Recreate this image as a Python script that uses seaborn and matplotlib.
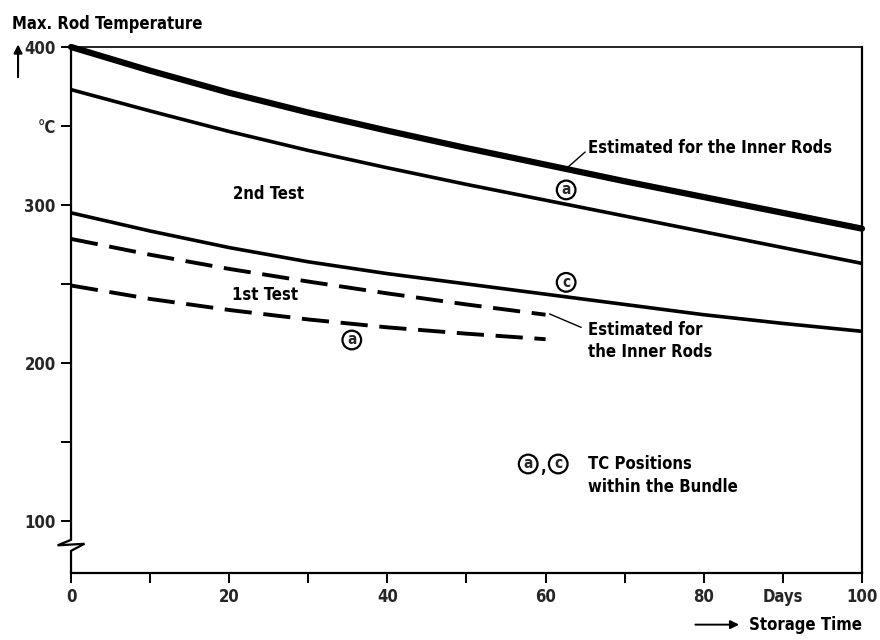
import matplotlib
matplotlib.use("Agg")
import matplotlib.pyplot as plt
import seaborn as sns
import pandas as pd

# ---- data ----
days_2nd = [0, 10, 20, 30, 40, 50, 60, 70, 80, 90, 100]
inner_2nd = [400, 385, 371, 358.5, 347, 336, 325.5, 315, 305, 295, 285]
pos_a_2nd = [373, 359.5, 346.5, 334.5, 323.5, 313, 303, 293, 283, 273, 263]
pos_c_2nd = [295, 283.5, 273, 264, 256.5, 250, 243.5, 237, 230.5, 225, 220]

days_1st = [0, 10, 20, 30, 40, 50, 60]
inner_1st = [278.5, 268.5, 259.5, 251.5, 244, 237, 230.5]
pos_a_1st = [249, 240.5, 233.5, 227.5, 222.5, 218.5, 215]

x_major = [0, 20, 40, 60, 80, 100]
x_minor = [10, 30, 50, 70, 90]
y_major = [100, 200, 300, 400]
y_minor = [150, 250, 350]

sns.set_style("white")
plt.rcParams["font.family"] = ["DejaVu Sans"]
plt.rcParams["font.weight"] = "bold"
plt.rcParams["font.stretch"] = "condensed"

fig = plt.figure(figsize=(8.8, 6.4), dpi=100)
ax = fig.add_axes([0.0807, 0.1047, 0.8988, 0.8219])

df2 = pd.DataFrame({"day": days_2nd, "inner": inner_2nd, "a": pos_a_2nd, "c": pos_c_2nd})
df1 = pd.DataFrame({"day": days_1st, "inner": inner_1st, "a": pos_a_1st})

sns.lineplot(data=df2, x="day", y="inner", ax=ax, color="black", lw=4.5, clip_on=False)
sns.lineplot(data=df2, x="day", y="a", ax=ax, color="black", lw=2.6)
sns.lineplot(data=df2, x="day", y="c", ax=ax, color="black", lw=2.6)
sns.lineplot(data=df1, x="day", y="inner", ax=ax, color="black", lw=2.8)
ax.lines[-1].set_dashes((7, 3))
sns.lineplot(data=df1, x="day", y="a", ax=ax, color="black", lw=2.8)
ax.lines[-1].set_dashes((7, 3))

ax.set_xlim(0, 100)
ax.set_ylim(67, 400)
ax.set_xlabel("")
ax.set_ylabel("")

for s in ["top", "right", "bottom"]:
    ax.spines[s].set_visible(True)
    ax.spines[s].set_color("black")
    ax.spines[s].set_linewidth(1.6)
ax.spines["top"].set_linewidth(1.2)
ax.spines["left"].set_visible(False)
ax.plot([0, 0, -1.7, 1.7, 0, 0], [400, 88, 84.5, 85.5, 81, 67],
        color="black", lw=1.6, clip_on=False, solid_joinstyle="miter")

x_ticks = sorted(x_major + x_minor)
ax.set_xticks(x_ticks)
ax.set_xticklabels([str(v) if v in x_major else ("Days" if v == 90 else "") for v in x_ticks])
y_ticks = sorted(y_major + y_minor)
ax.set_yticks(y_ticks)
ax.set_yticklabels([str(v) if v in y_major else ("°C" if v == 350 else "") for v in y_ticks])
ax.tick_params(axis="both", direction="out", length=7, width=1.4, color="black",
               labelsize=12, pad=4, bottom=True, left=True)
for lab in ax.get_xticklabels() + ax.get_yticklabels():
    lab.set_fontweight("bold")
    lab.set_fontstretch("condensed")

kw = dict(fontsize=12, fontweight="bold", color="black", fontstretch="condensed")
fig.text(0.014, 0.962, "Max. Rod Temperature", ha="left", va="center", **kw)
fig.add_artist(matplotlib.patches.FancyArrowPatch((0.0205, 0.875), (0.0205, 0.935),
               transform=fig.transFigure, arrowstyle="-|>,head_length=5,head_width=2.5",
               color="black", lw=1.5))

ax.text(25, 307, "2nd Test", ha="center", va="center", **kw)
ax.text(24.5, 243, "1st Test", ha="center", va="center", **kw)
ax.text(65.3, 336, "Estimated for the Inner Rods", ha="left", va="center", **kw)
ax.plot([62.5, 65.0], [322.5, 333.5], color="black", lw=1.0)
ax.text(65.4, 221, "Estimated for", ha="left", va="center", **kw)
ax.text(65.4, 207, "the Inner Rods", ha="left", va="center", **kw)
ax.plot([60.5, 64.5], [231, 222.5], color="black", lw=1.0)

circ = dict(boxstyle="circle,pad=0.12", fc="white", ec="black", lw=1.6)
ckw = dict(fontsize=11, fontweight="bold", ha="center", va="center")
ax.text(62.6, 309.5, "a", bbox=circ, **ckw)
ax.text(62.6, 251, "c", bbox=circ, **ckw)
ax.text(35.5, 214.5, "a", bbox=circ, **ckw)
ax.text(57.8, 136, "a", bbox=circ, **ckw)
ax.text(59.7, 134, ",", ha="center", va="center", **kw)
ax.text(61.6, 136, "c", bbox=circ, **ckw)
ax.text(65.3, 136, "TC Positions", ha="left", va="center", **kw)
ax.text(65.3, 121.5, "within the Bundle", ha="left", va="center", **kw)

fig.text(0.9795, 0.024, "Storage Time", ha="right", va="center", **kw)
fig.add_artist(matplotlib.patches.FancyArrowPatch((0.787, 0.024), (0.843, 0.024),
               transform=fig.transFigure, arrowstyle="-|>,head_length=5,head_width=2.5",
               color="black", lw=1.4))

fig.savefig("out.png", dpi=100, facecolor="white")
